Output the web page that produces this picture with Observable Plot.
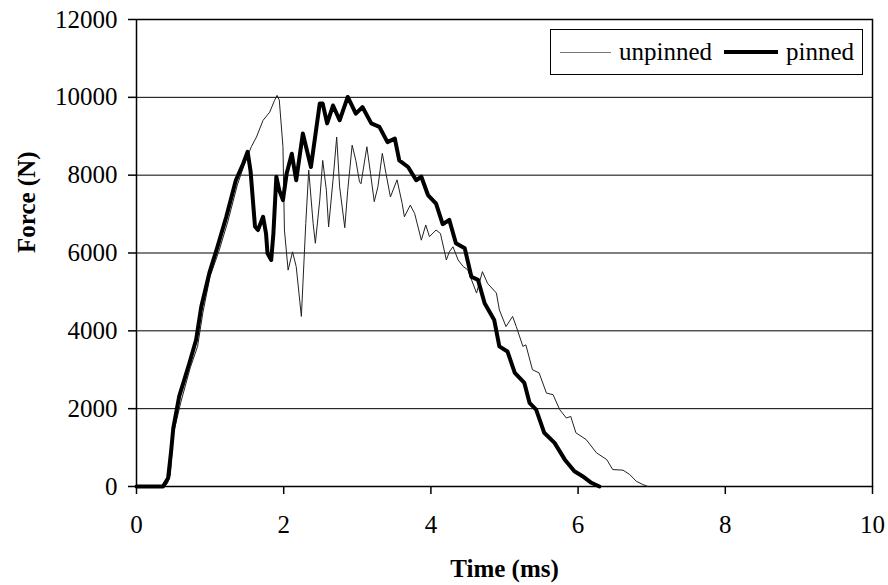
<!DOCTYPE html>
<html>
<head>
<meta charset="utf-8">
<script src="https://cdn.jsdelivr.net/npm/d3@7"></script>
<script src="https://cdn.jsdelivr.net/npm/@observablehq/plot@0.6"></script>
<style>
  html, body { margin: 0; padding: 0; background: #fff; }
  #wrap { position: relative; width: 888px; height: 585px; font-family: "Liberation Serif", "Times New Roman", serif; }
  #legend { position: absolute; left: 550px; top: 29px; width: 311px; height: 44px; border: 1px solid #000; background: #fff; font-size: 25px; line-height: 44px; color: #000; }
  #legend .s { position: absolute; }
  #legend .t { position: absolute; top: 0; }
</style>
</head>
<body>
<div id="wrap"></div>
<script>
const seriesNames = ["unpinned", "pinned"];
const xTicks = [0, 2, 4, 6, 8, 10];
const yTicks = [0, 2000, 4000, 6000, 8000, 10000, 12000];
const gridValues = [2000, 4000, 6000, 8000, 10000];

const unpinnedT = [0, 0.38, 0.42, 0.46, 0.50, 0.60, 0.73, 0.83, 0.90, 1.00, 1.12, 1.24, 1.37, 1.47, 1.56, 1.63, 1.72, 1.81, 1.875, 1.91, 1.94, 1.99, 2.01, 2.06, 2.12, 2.17, 2.24, 2.30, 2.34, 2.40, 2.43, 2.49, 2.53, 2.58, 2.61, 2.67, 2.72, 2.76, 2.83, 2.87, 2.93, 2.98, 3.03, 3.05, 3.13, 3.18, 3.23, 3.28, 3.34, 3.39, 3.45, 3.54, 3.61, 3.64, 3.72, 3.78, 3.87, 3.93, 3.98, 4.07, 4.13, 4.21, 4.25, 4.30, 4.37, 4.44, 4.50, 4.62, 4.70, 4.77, 4.89, 4.93, 5.02, 5.11, 5.16, 5.25, 5.29, 5.38, 5.47, 5.57, 5.66, 5.75, 5.84, 5.90, 5.97, 6.11, 6.25, 6.39, 6.47, 6.61, 6.70, 6.79, 6.88, 6.95];
const unpinnedF = [0, 0, 80, 300, 1350, 2150, 3050, 3600, 4450, 5400, 6050, 6800, 7750, 8300, 8730, 8980, 9410, 9620, 9920, 10050, 9930, 8730, 6590, 5560, 6030, 5650, 4370, 6760, 8130, 6760, 6250, 7360, 8380, 7610, 6670, 7870, 8980, 7700, 6650, 7610, 8770, 8380, 7830, 7780, 8730, 8040, 7320, 7700, 8560, 8040, 7440, 7880, 7270, 6930, 7230, 7010, 6330, 6720, 6420, 6590, 6500, 5820, 6030, 6160, 5820, 5650, 5570, 4970, 5520, 5220, 4970, 4540, 4110, 4370, 4110, 3600, 3640, 3000, 2920, 2400, 2360, 1975, 1760, 1800, 1380, 1205, 865, 690, 435, 420, 310, 135, 50, 0];

const pinnedT = [0, 0.36, 0.43, 0.47, 0.50, 0.58, 0.72, 0.81, 0.88, 0.99, 1.10, 1.22, 1.35, 1.45, 1.51, 1.55, 1.61, 1.65, 1.72, 1.76, 1.78, 1.83, 1.86, 1.90, 1.94, 1.99, 2.04, 2.11, 2.17, 2.26, 2.37, 2.49, 2.53, 2.59, 2.67, 2.76, 2.87, 2.98, 3.07, 3.19, 3.30, 3.41, 3.51, 3.57, 3.69, 3.80, 3.87, 3.96, 4.07, 4.16, 4.25, 4.34, 4.46, 4.55, 4.64, 4.73, 4.86, 4.93, 5.04, 5.14, 5.27, 5.34, 5.43, 5.54, 5.68, 5.82, 5.95, 6.06, 6.18, 6.29];
const pinnedF = [0, 0, 220, 900, 1500, 2315, 3180, 3770, 4620, 5490, 6160, 6930, 7870, 8300, 8600, 8100, 6680, 6590, 6930, 6500, 5990, 5820, 6500, 7960, 7610, 7360, 8040, 8550, 7870, 9070, 8210, 9840, 9840, 9330, 9790, 9410, 10010, 9580, 9750, 9330, 9240, 8850, 8940, 8380, 8210, 7870, 7960, 7490, 7270, 6740, 6850, 6250, 6120, 5390, 5310, 4710, 4280, 3600, 3470, 2920, 2660, 2150, 1975, 1380, 1120, 690, 390, 265, 95, 0];

const unpinned = unpinnedT.map((t, i) => ({t, f: unpinnedF[i], s: seriesNames[0]}));
const pinned = pinnedT.map((t, i) => ({t, f: pinnedF[i], s: seriesNames[1]}));

const chart = Plot.plot({
  width: 888,
  height: 585,
  marginLeft: 136,
  marginRight: 16,
  marginTop: 19,
  marginBottom: 99,
  style: {fontFamily: "'Liberation Serif', 'Times New Roman', serif", fontSize: "25px", color: "#000", background: "#fff"},
  x: {domain: [0, 10], ticks: xTicks, label: null, tickSize: 8, tickPadding: 21},
  y: {domain: [0, 12000], ticks: yTicks, label: null, tickSize: 8, tickPadding: 11, tickFormat: d3.format("d")},
  marks: [
    Plot.ruleY(gridValues, {stroke: "#000", strokeWidth: 1}),
    Plot.frame({stroke: "#000", strokeWidth: 1.5}),
    Plot.line(unpinned, {x: "t", y: "f", stroke: "#222", strokeWidth: 1, strokeLinejoin: "round"}),
    Plot.line(pinned, {x: "t", y: "f", stroke: "#000", strokeWidth: 4, strokeLinejoin: "round"}),
    Plot.text(["Time (ms)"], {frameAnchor: "bottom", dy: 82, fontWeight: "bold", fontSize: 25, lineAnchor: "middle"}),
    Plot.text(["Force (N)"], {frameAnchor: "left", dx: -110, rotate: -90, fontWeight: "bold", fontSize: 25, lineAnchor: "middle"})
  ]
});
chart.querySelectorAll('[aria-label="x-axis tick"], [aria-label="y-axis tick"]').forEach(g => { g.setAttribute("stroke-width", "1.5"); });

const wrap = document.getElementById("wrap");
wrap.appendChild(chart);

const legend = document.createElement("div");
legend.id = "legend";
legend.innerHTML =
  '<div class="s" style="left:9px;top:22px;width:51px;height:0;border-top:1.5px solid #777"></div>' +
  '<span class="t" style="left:68px">' + seriesNames[0] + '</span>' +
  '<div class="s" style="left:173px;top:20px;width:54px;height:4px;background:#000"></div>' +
  '<span class="t" style="left:235px">' + seriesNames[1] + '</span>';
wrap.appendChild(legend);
</script>
</body>
</html>
